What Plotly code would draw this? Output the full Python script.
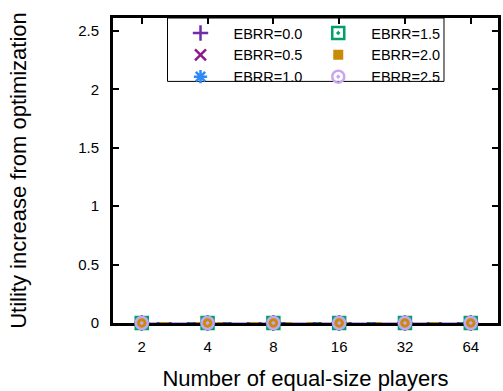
import plotly.graph_objects as go

# Equal-size player counts on the horizontal axis
players = [2, 4, 8, 16, 32, 64]
player_labels = ["2", "4", "8", "16", "32", "64"]

# Utility increase from optimization, one series per EBRR setting
ebrr_0_0 = [0, 0, 0, 0, 0, 0]
ebrr_0_5 = [0, 0, 0, 0, 0, 0]
ebrr_1_0 = [0, 0, 0, 0, 0, 0]
ebrr_1_5 = [0, 0, 0, 0, 0, 0]
ebrr_2_0 = [0, 0, 0, 0, 0, 0]
ebrr_2_5 = [0, 0, 0, 0, 0, 0]

y_ticks = [0, 0.5, 1, 1.5, 2, 2.5]
y_tick_labels = ["0", "0.5", "1", "1.5", "2", "2.5"]

series = [
    ("EBRR=0.0", ebrr_0_0, "#6f2da8", "cross-thin", 11, "solid", "legend"),
    ("EBRR=0.5", ebrr_0_5, "#8e1a8a", "x-thin", 11, "dash", "legend"),
    ("EBRR=1.0", ebrr_1_0, "#2e8af5", "asterisk", 11, "dot", "legend"),
    ("EBRR=1.5", ebrr_1_5, "#00a06e", "square-open-dot", 12, "dashdot", "legend2"),
    ("EBRR=2.0", ebrr_2_0, "#c98a06", "square", 10, "dash", "legend2"),
    ("EBRR=2.5", ebrr_2_5, "#c6a6f2", "circle-open-dot", 12, "longdash", "legend2"),
]

FONT = "Liberation Sans, Arial, sans-serif"

fig = go.Figure()

# connecting lines (not shown in the key)
for name, vals, color, sym, size, dash, lg in series:
    fig.add_trace(go.Scatter(
        x=players, y=vals, mode="lines",
        line=dict(color=color, width=2, dash=dash),
        showlegend=False, hoverinfo="skip", cliponaxis=False,
    ))

# point markers, listed in the two-column key
for name, vals, color, sym, size, dash, lg in series:
    filled = sym == "square"
    fig.add_trace(go.Scatter(
        x=players, y=vals, mode="markers", name=name, legend=lg,
        cliponaxis=False,
        marker=dict(
            symbol=sym, size=size, color=color,
            line=dict(color=color, width=0 if filled else 2.5),
        ),
    ))

L, R, T, B = 113, 1.5, 17.5, 68
W, H = 503, 391
pw, ph = W - L - R, H - T - B

def px_x(x):
    return (x - L) / pw

def px_y(y):
    return (H - B - y) / ph

legend_common = dict(
    bgcolor="rgba(0,0,0,0)", borderwidth=0,
    font=dict(family=FONT, size=14.5, color="#000"),
    orientation="v", xanchor="left", yanchor="top",
    itemwidth=56, tracegroupgap=0,
)

fig.update_layout(
    width=W, height=H,
    margin=dict(l=L, r=R, t=T, b=B),
    paper_bgcolor="white", plot_bgcolor="white",
    font=dict(family=FONT, size=15, color="#000"),
    legend=dict(x=px_x(168), y=px_y(16.5), **legend_common),
    legend2=dict(x=px_x(307), y=px_y(16.5), **legend_common),
    xaxis=dict(
        type="log", range=[0.1695, 1.9307],
        tickvals=players, ticktext=player_labels,
        ticks="inside", ticklen=6, tickwidth=1.5, tickcolor="#000",
        showline=True, linewidth=3, linecolor="#000", mirror="ticks",
        showgrid=False, zeroline=False, layer="below traces",
        ticklabelstandoff=8,
        tickfont=dict(family=FONT, size=15, color="#000"),
        title=dict(text="Number of equal-size players",
                   font=dict(family=FONT, size=22, color="#000"), standoff=17),
    ),
    yaxis=dict(
        range=[0, 2.61],
        tickvals=y_ticks, ticktext=y_tick_labels,
        ticks="inside", ticklen=6, tickwidth=1.5, tickcolor="#000",
        showline=True, linewidth=3, linecolor="#000", mirror="ticks",
        showgrid=False, zeroline=False, layer="below traces",
        ticklabelstandoff=8,
        tickfont=dict(family=FONT, size=15, color="#000"),
        title=dict(text="Utility increase from optimization",
                   font=dict(family=FONT, size=22, color="#000"), standoff=46),
    ),
    shapes=[dict(
        type="rect", xref="paper", yref="paper",
        x0=px_x(168), x1=px_x(447), y0=px_y(81), y1=px_y(17.5),
        line=dict(color="#000", width=1), fillcolor="rgba(0,0,0,0)",
    )],
)

fig.write_html("out.html")
